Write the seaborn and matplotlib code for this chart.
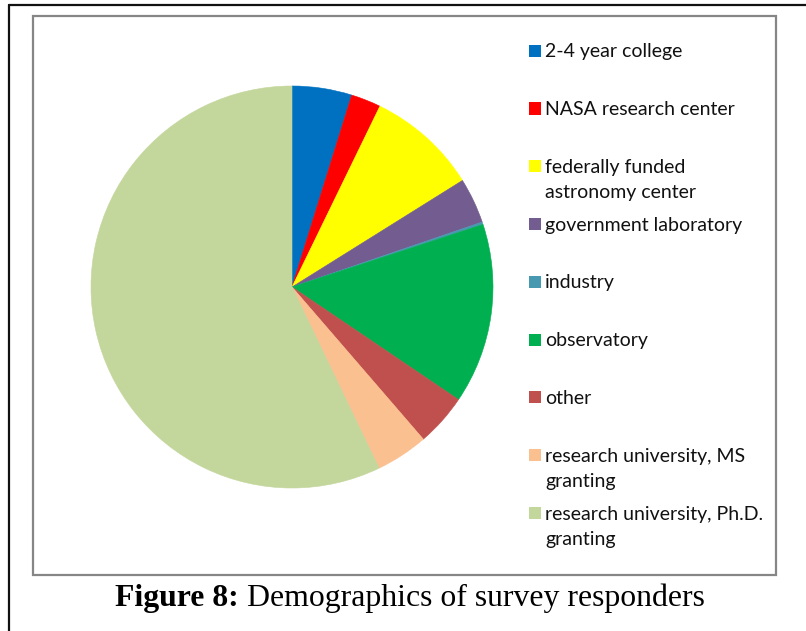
import matplotlib
matplotlib.use("Agg")
import matplotlib.pyplot as plt
from matplotlib.patches import Rectangle
from matplotlib.lines import Line2D
import seaborn as sns

# Survey responder demographics (percent of respondents)
categories = [
    "2-4 year college",
    "NASA research center",
    "federally funded\nastronomy center",
    "government laboratory",
    "industry",
    "observatory",
    "other",
    "research university, MS\ngranting",
    "research university, Ph.D.\ngranting",
]
shares = [4.8, 2.4, 8.9, 3.65, 0.2, 14.5, 4.2, 4.2, 57.1]
slice_colors = [
    "#0070C0", "#FF0000", "#FFFF00", "#735C8F", "#4699B0",
    "#00B050", "#C0504D", "#FAC090", "#C3D69B",
]
caption_bold = "Figure 8:"
caption_rest = " Demographics of survey responders"

sns.set_theme(style="white")
plt.rcParams["font.family"] = ["Lato", "DejaVu Sans"]
palette = sns.color_palette(slice_colors)

W, H = 806, 631
fig = plt.figure(figsize=(W / 100, H / 100), dpi=100)
fig.patch.set_facecolor("white")


def fx(x):
    return x / W


def fy(y):
    return 1 - y / H


# outer page frame (top and left rules)
fig.add_artist(Line2D([fx(9), fx(9)], [fy(5), fy(640)], color="#111111", lw=1.6))
fig.add_artist(Line2D([fx(9), fx(820)], [fy(5), fy(5)], color="#111111", lw=1.6))

# chart area border
fig.add_artist(Rectangle((fx(33), fy(575)), fx(776) - fx(33), fy(16) - fy(575),
                         transform=fig.transFigure, fill=False,
                         edgecolor="#868686", lw=1.6))

# pie
cx, cy, r = 292, 287, 201
ax = fig.add_axes([fx(cx - r), fy(cy + r), 2 * r / W, 2 * r / H])
wedges, _ = ax.pie(shares, colors=palette, startangle=90, counterclock=False,
                   wedgeprops=dict(linewidth=0.4))
for w, col in zip(wedges, palette):
    w.set_edgecolor(col)
ax.set_xlim(-1, 1)
ax.set_ylim(-1, 1)
ax.set_aspect("equal")
ax.axis("off")

# legend: one entry every `step` px, wrapped lines `line_gap` px apart
y0, step, line_gap = 50.7, 57.8, 25.6
for i, (lab, col) in enumerate(zip(categories, palette)):
    yc = y0 + i * step
    fig.add_artist(Rectangle((fx(529), fy(yc + 6)), 12 / W, 12 / H,
                             transform=fig.transFigure, facecolor=col,
                             edgecolor="none"))
    for k, line in enumerate(lab.split("\n")):
        fig.text(fx(545), fy(yc + 6.5 + k * line_gap), line, fontsize=14,
                 color="#111111", ha="left", va="baseline")

# caption
fig.canvas.draw()
renderer = fig.canvas.get_renderer()
t1 = fig.text(fx(115), fy(606), caption_bold, fontsize=22.9, fontweight="bold",
              family="Liberation Serif", ha="left", va="baseline", color="black")
bb = t1.get_window_extent(renderer=renderer)
fig.text(bb.x1 / W, fy(606), caption_rest, fontsize=22.9,
         family="Liberation Serif", ha="left", va="baseline", color="black")

fig.savefig("out.png", dpi=100)
